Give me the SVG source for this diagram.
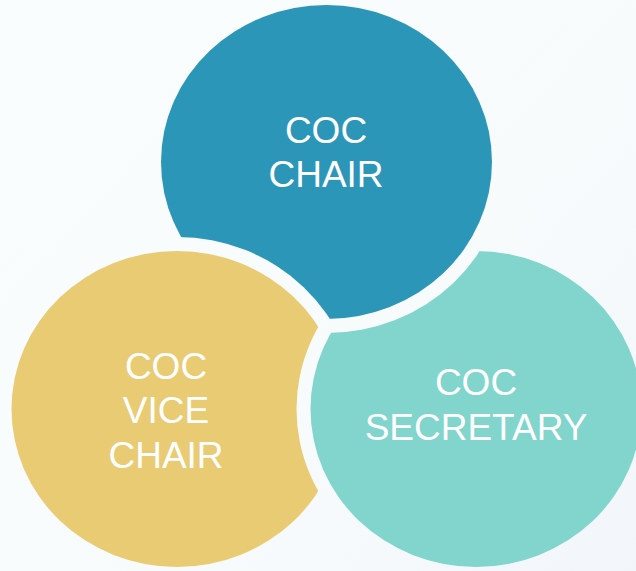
<svg xmlns="http://www.w3.org/2000/svg" width="636" height="571" viewBox="0 0 636 571">
  <defs>
    <linearGradient id="bg" gradientUnits="userSpaceOnUse" x1="0" y1="0" x2="636" y2="571">
      <stop offset="0" stop-color="#FAFDFD"/>
      <stop offset="0.6" stop-color="#F8FBFC"/>
      <stop offset="1" stop-color="#F2F6FB"/>
    </linearGradient>
    <mask id="cutByYellow" maskUnits="userSpaceOnUse" x="0" y="0" width="636" height="571">
      <rect x="0" y="0" width="636" height="571" fill="#FFFFFF"/>
      <ellipse cx="177" cy="409" rx="179.5" ry="172" fill="#000000"/>
    </mask>
    <mask id="cutByTeal" maskUnits="userSpaceOnUse" x="0" y="0" width="636" height="571">
      <rect x="0" y="0" width="636" height="571" fill="#FFFFFF"/>
      <ellipse cx="476" cy="409" rx="179.5" ry="172" fill="#000000"/>
    </mask>
    <mask id="cutByBlue" maskUnits="userSpaceOnUse" x="0" y="0" width="636" height="571">
      <rect x="0" y="0" width="636" height="571" fill="#FFFFFF"/>
      <ellipse cx="326.5" cy="162" rx="179.5" ry="171" fill="#000000"/>
    </mask>
  </defs>
  <style>
    .lbl { font-family: "Liberation Sans", Arial, sans-serif; font-size: 37px; fill: #FFFFFF; text-anchor: middle; }
  </style>
  <rect x="0" y="0" width="636" height="571" fill="url(#bg)"/>
  <g id="node-chair">
    <ellipse cx="326.5" cy="162" rx="165.5" ry="157" fill="#2C96B8" mask="url(#cutByYellow)"/>
    <text class="lbl" x="326" y="142.5">COC</text>
    <text class="lbl" x="326" y="187">CHAIR</text>
  </g>
  <g id="node-vice-chair">
    <ellipse cx="177" cy="409" rx="165.5" ry="158" fill="#E9CB74" mask="url(#cutByTeal)"/>
    <text class="lbl" x="166" y="378.5">COC</text>
    <text class="lbl" x="166" y="423">VICE</text>
    <text class="lbl" x="166" y="467.5">CHAIR</text>
  </g>
  <g id="node-secretary">
    <ellipse cx="476" cy="409" rx="165.5" ry="158" fill="#81D5CC" mask="url(#cutByBlue)"/>
    <text class="lbl" x="476" y="395">COC</text>
    <text class="lbl" x="476" y="440">SECRETARY</text>
  </g>
</svg>
